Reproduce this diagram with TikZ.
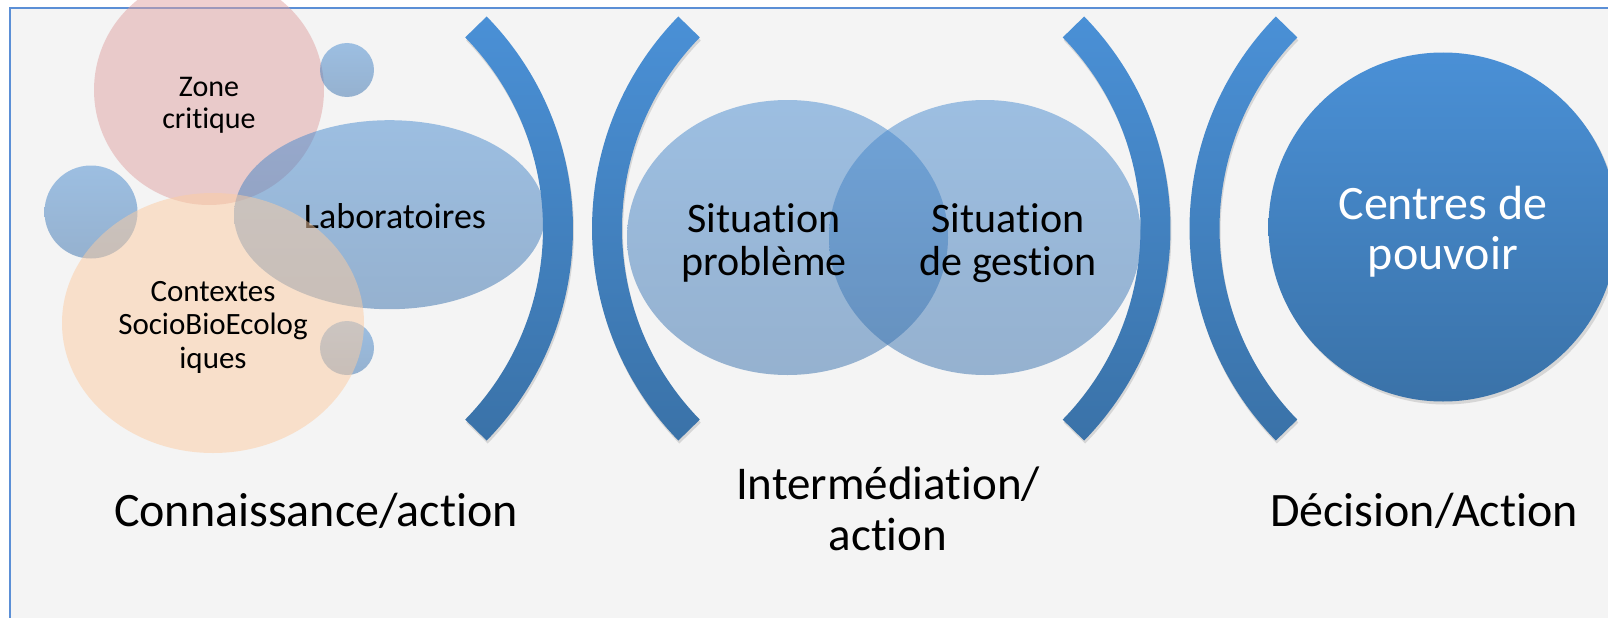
\documentclass[tikz,border=0pt]{standalone}
\usepackage{fontspec}
\setmainfont{Carlito}[Ligatures={NoCommon,NoRequired,NoContextual}, Contextuals=NoAlternate]
\usetikzlibrary{shapes.geometric, shadows}

\definecolor{paper}{HTML}{F4F4F4}
\definecolor{frameblue}{HTML}{5B8FD6}
\definecolor{bandtop}{HTML}{4A90D6}
\definecolor{bandbot}{HTML}{3A72A8}
\definecolor{pinkzone}{HTML}{E0A2A2}
\definecolor{peachctx}{HTML}{FCCCA2}
\definecolor{bubtop}{HTML}{468AD0}
\definecolor{bubbot}{HTML}{3870AC}

\begin{document}
\begin{tikzpicture}[
    x=1pt, y=-1pt,
    bubble/.style={circle, inner sep=0pt, fill opacity=0.5, text opacity=1},
    bluebubble/.style={bubble, top color=bubtop, bottom color=bubbot},
    oval/.style={ellipse, inner sep=0pt, fill opacity=0.5, text opacity=1},
    blueoval/.style={oval, top color=bubtop, bottom color=bubbot},
    band/.style={top color=bandtop, bottom color=bandbot, drop shadow={shadow xshift=1pt, shadow yshift=-3pt, opacity=0.25}},
    label/.style={align=center, inner sep=0pt},
    bigtext/.style={label, font=\fontsize{48}{51}\selectfont}
]

\useasboundingbox (0,0) rectangle (1608,618);
\clip (0,0) rectangle (1608,618);

% frame
\fill[paper] (10,8) rectangle (1640,640);
\draw[frameblue, line width=1.5pt] (10,640) -- (10,8) -- (1640,8);

% knowledge cluster
\node[bubble, fill=pinkzone, minimum size=230pt] (zone) at (209,90) {};
\node[label, font=\fontsize{30}{32}\selectfont] (zonetxt) at (209,105) {Zone\\critique};
\node[bluebubble, minimum size=54pt] (dot1) at (347,70) {};
\node[bluebubble, minimum size=93pt] (dot2) at (91,212) {};
\node[bluebubble, minimum size=54pt] (dot3) at (347,348) {};
\node[blueoval, minimum width=311pt, minimum height=189pt] (labo) at (389.5,214.7) {};
\node[label, font=\fontsize{36}{40}\selectfont, anchor=base] (labotxt) at (395,228) {Laboratoires};
\node[oval, fill=peachctx, minimum width=302pt, minimum height=260pt] (ctx) at (213,323) {};
\node[label, font=\fontsize{31}{33.5}\selectfont] (ctxtxt) at (213,327) {Contextes\\SocioBioEcolog\\iques};

% brackets
\foreach \a in {582.5,1180}{
  \shade[band] (\a-313.1,228.5) ++(-44.3:273.6) arc[start angle=-44.3, end angle=44.3, radius=273.6]
      -- ++(44.3:30) arc[start angle=44.3, end angle=-44.3, radius=303.6] -- cycle;
  \shade[band] (\a+313.1,228.5) ++(224.3:273.6) arc[start angle=224.3, end angle=135.7, radius=273.6]
      -- ++(135.7:30) arc[start angle=135.7, end angle=224.3, radius=303.6] -- cycle;
}

% intermediation
\node[blueoval, minimum width=321pt, minimum height=275pt] (probleme) at (787.5,237.5) {};
\node[blueoval, minimum width=312pt, minimum height=275pt] (gestion) at (985,237.5) {};
\node[label, font=\fontsize{42}{43.5}\selectfont] (problemetxt) at (764,243) {Situation\\problème};
\node[label, font=\fontsize{42}{43.5}\selectfont] (gestiontxt) at (1008,243) {Situation\\de gestion};

% decision
\node[circle, inner sep=0pt, minimum size=349pt, top color=bandtop, bottom color=bandbot,
      drop shadow={shadow xshift=2pt, shadow yshift=-3pt, opacity=0.25}] (pouvoir) at (1443,227) {};
\node[label, text=white, font=\fontsize{48}{50}\selectfont] (pouvoirtxt) at (1443,232) {Centres de\\pouvoir};

% phase titles
\node[bigtext, anchor=base] (savoir) at (316,526) {Connaissance/action};
\node[bigtext, font=\fontsize{47}{51}\selectfont] (mediation) at (888,508.5) {Intermédiation/\\action};
\node[bigtext, anchor=base] (decision) at (1424,526) {Décision/Action};

\end{tikzpicture}
\end{document}
